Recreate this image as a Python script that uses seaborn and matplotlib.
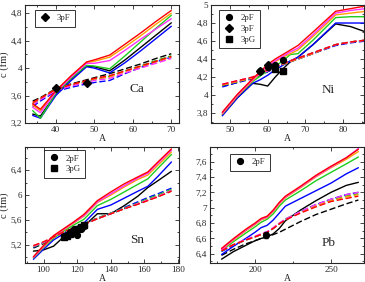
import pandas as pd
import matplotlib
matplotlib.use('Agg')
import matplotlib.pyplot as plt
from matplotlib.ticker import FuncFormatter, MultipleLocator
from matplotlib.lines import Line2D
import seaborn as sns

sns.set_style('ticks')
plt.rcParams['font.family'] = ['Liberation Serif', 'DejaVu Serif']

# ---- data ----
line_names = ['black', 'blue', 'green', 'orange', 'magenta', 'red']

# Ca
ca_A = [34, 36, 40, 44, 48, 50, 54, 58, 62, 66, 70]
ca_solid = {
    'black':   [3.33, 3.30, 3.62, 3.84, 4.03, 4.02, 3.96, 4.12, 4.30, 4.48, 4.66],
    'blue':    [3.31, 3.27, 3.60, 3.82, 4.02, 4.00, 3.93, 4.08, 4.25, 4.43, 4.61],
    'green':   [3.38, 3.27, 3.63, 3.85, 4.04, 4.03, 3.99, 4.18, 4.38, 4.58, 4.77],
    'orange':  [3.46, 3.38, 3.66, 3.88, 4.08, 4.10, 4.16, 4.31, 4.47, 4.64, 4.80],
    'magenta': [3.43, 3.35, 3.65, 3.87, 4.07, 4.07, 4.11, 4.26, 4.42, 4.57, 4.72],
    'red':     [3.48, 3.40, 3.67, 3.89, 4.09, 4.12, 4.19, 4.35, 4.51, 4.68, 4.84],
}
ca_dashed = {
    'black':   [3.52, 3.57, 3.70, 3.77, 3.83, 3.86, 3.92, 3.99, 4.06, 4.14, 4.21],
    'blue':    [3.44, 3.52, 3.66, 3.72, 3.77, 3.79, 3.82, 3.92, 4.01, 4.09, 4.16],
    'green':   [3.47, 3.55, 3.68, 3.75, 3.81, 3.83, 3.88, 3.96, 4.03, 4.11, 4.18],
    'orange':  [3.49, 3.56, 3.69, 3.76, 3.81, 3.84, 3.87, 3.95, 4.02, 4.09, 4.16],
    'magenta': [3.46, 3.54, 3.67, 3.74, 3.79, 3.82, 3.85, 3.93, 4.00, 4.07, 4.14],
    'red':     [3.50, 3.56, 3.69, 3.76, 3.82, 3.85, 3.89, 3.96, 4.03, 4.10, 4.17],
}
ca_3pF_A = [40, 48]
ca_3pF_c = [3.71, 3.78]

# Ni
ni_A = [48, 52, 56, 58, 60, 62, 64, 66, 68, 72, 78, 82, 86]
ni_solid = {
    'black':   [3.78, 3.97, 4.13, 4.12, 4.10, 4.20, 4.29, 4.37, 4.42, 4.56, 4.79, 4.76, 4.70],
    'blue':    [3.77, 3.97, 4.13, 4.17, 4.22, 4.28, 4.33, 4.38, 4.42, 4.56, 4.80, 4.80, 4.80],
    'green':   [3.79, 3.99, 4.15, 4.21, 4.27, 4.32, 4.38, 4.45, 4.46, 4.61, 4.86, 4.87, 4.87],
    'orange':  [3.79, 3.99, 4.16, 4.24, 4.31, 4.37, 4.42, 4.46, 4.50, 4.65, 4.89, 4.91, 4.93],
    'magenta': [3.80, 4.00, 4.17, 4.25, 4.32, 4.38, 4.43, 4.48, 4.52, 4.67, 4.91, 4.94, 4.96],
    'red':     [3.81, 4.01, 4.18, 4.26, 4.34, 4.40, 4.45, 4.50, 4.55, 4.70, 4.93, 4.96, 4.99],
}
ni_dashed = {
    'black':   [4.10, 4.14, 4.19, 4.22, 4.26, 4.30, 4.34, 4.37, 4.40, 4.46, 4.56, 4.59, 4.61],
    'blue':    [4.09, 4.14, 4.18, 4.22, 4.26, 4.30, 4.34, 4.37, 4.40, 4.46, 4.55, 4.58, 4.60],
    'green':   [4.11, 4.15, 4.19, 4.23, 4.27, 4.31, 4.35, 4.38, 4.41, 4.47, 4.56, 4.59, 4.61],
    'orange':  [4.11, 4.15, 4.19, 4.23, 4.27, 4.31, 4.34, 4.37, 4.40, 4.46, 4.56, 4.59, 4.61],
    'magenta': [4.12, 4.16, 4.20, 4.23, 4.27, 4.31, 4.35, 4.38, 4.41, 4.47, 4.56, 4.59, 4.61],
    'red':     [4.12, 4.16, 4.20, 4.24, 4.28, 4.31, 4.35, 4.38, 4.41, 4.47, 4.56, 4.59, 4.61],
}
ni_2pF_A = [58, 60, 62, 64]
ni_2pF_c = [4.27, 4.31, 4.33, 4.39]
ni_3pF_A = [58, 60]
ni_3pF_c = [4.27, 4.33]
ni_3pG_A = [62, 64]
ni_3pG_c = [4.29, 4.27]

# Sn
sn_A = [94, 100, 106, 112, 118, 124, 132, 140, 148, 156, 162, 168, 176]
sn_solid = {
    'black':   [5.10, 5.12, 5.18, 5.33, 5.42, 5.50, 5.70, 5.70, 5.83, 5.98, 6.12, 6.23, 6.38],
    'blue':    [4.97, 5.13, 5.28, 5.38, 5.47, 5.55, 5.77, 5.84, 5.95, 6.06, 6.14, 6.30, 6.53],
    'green':   [4.99, 5.16, 5.31, 5.42, 5.52, 5.61, 5.83, 5.93, 6.05, 6.17, 6.26, 6.43, 6.65],
    'orange':  [5.00, 5.17, 5.33, 5.44, 5.55, 5.66, 5.88, 6.00, 6.13, 6.25, 6.32, 6.48, 6.69],
    'magenta': [5.00, 5.18, 5.34, 5.45, 5.56, 5.67, 5.89, 6.02, 6.15, 6.27, 6.35, 6.51, 6.72],
    'red':     [5.01, 5.19, 5.35, 5.46, 5.57, 5.69, 5.91, 6.05, 6.18, 6.29, 6.37, 6.53, 6.74],
}
sn_dashed = {
    'black':   [5.15, 5.22, 5.32, 5.40, 5.47, 5.53, 5.62, 5.70, 5.78, 5.86, 5.92, 5.98, 6.07],
    'blue':    [5.16, 5.24, 5.32, 5.40, 5.47, 5.54, 5.63, 5.71, 5.80, 5.89, 5.96, 6.02, 6.11],
    'green':   [5.17, 5.23, 5.32, 5.40, 5.47, 5.54, 5.63, 5.71, 5.79, 5.87, 5.94, 6.00, 6.09],
    'orange':  [5.18, 5.24, 5.32, 5.40, 5.47, 5.53, 5.62, 5.70, 5.78, 5.86, 5.92, 5.98, 6.07],
    'magenta': [5.18, 5.24, 5.33, 5.40, 5.47, 5.53, 5.62, 5.70, 5.78, 5.86, 5.92, 5.98, 6.07],
    'red':     [5.19, 5.25, 5.33, 5.41, 5.47, 5.53, 5.62, 5.70, 5.78, 5.85, 5.91, 5.97, 6.06],
}
sn_2pF_A = [112, 114, 116, 118, 120, 122, 124]
sn_2pF_c = [5.34, 5.36, 5.40, 5.45, 5.36, 5.46, 5.51]
sn_3pG_A = [112, 114, 116, 118, 120, 122, 124]
sn_3pG_c = [5.33, 5.35, 5.38, 5.42, 5.45, 5.48, 5.52]

# Pb
pb_A = [178, 186, 194, 200, 204, 208, 212, 216, 220, 230, 240, 250, 260, 268]
pb_solid = {
    'black':   [6.33, 6.43, 6.51, 6.57, 6.60, 6.62, 6.66, 6.73, 6.83, 6.97, 7.09, 7.20, 7.29, 7.33],
    'blue':    [6.39, 6.50, 6.60, 6.68, 6.74, 6.77, 6.84, 6.93, 7.02, 7.12, 7.22, 7.32, 7.44, 7.52],
    'green':   [6.44, 6.56, 6.67, 6.75, 6.81, 6.85, 6.92, 7.02, 7.10, 7.22, 7.35, 7.46, 7.57, 7.66],
    'orange':  [6.45, 6.58, 6.70, 6.78, 6.84, 6.87, 6.95, 7.05, 7.13, 7.26, 7.40, 7.52, 7.63, 7.73],
    'magenta': [6.46, 6.59, 6.71, 6.79, 6.85, 6.88, 6.96, 7.06, 7.14, 7.27, 7.41, 7.53, 7.65, 7.77],
    'red':     [6.47, 6.60, 6.72, 6.80, 6.86, 6.89, 6.97, 7.07, 7.15, 7.28, 7.42, 7.54, 7.65, 7.76],
}
pb_dashed = {
    'black':   [6.38, 6.46, 6.53, 6.57, 6.60, 6.62, 6.65, 6.68, 6.72, 6.82, 6.91, 6.98, 7.05, 7.10],
    'blue':    [6.43, 6.51, 6.58, 6.62, 6.65, 6.68, 6.73, 6.79, 6.85, 6.95, 7.04, 7.11, 7.17, 7.20],
    'green':   [6.44, 6.52, 6.58, 6.62, 6.65, 6.68, 6.73, 6.79, 6.85, 6.95, 7.03, 7.10, 7.15, 7.18],
    'orange':  [6.44, 6.52, 6.58, 6.62, 6.65, 6.68, 6.73, 6.79, 6.85, 6.94, 7.03, 7.09, 7.14, 7.17],
    'magenta': [6.45, 6.52, 6.59, 6.63, 6.66, 6.69, 6.74, 6.80, 6.85, 6.95, 7.04, 7.11, 7.17, 7.20],
    'red':     [6.44, 6.52, 6.58, 6.62, 6.65, 6.68, 6.73, 6.79, 6.84, 6.93, 7.01, 7.08, 7.12, 7.15],
}
pb_2pF_A = [207]
pb_2pF_c = [6.64]
pb_2pF_err = [0.04]

palette = {'black': '#000000', 'blue': '#0000ff', 'green': '#1fcc1f',
           'orange': '#ffa000', 'magenta': '#ff30ff', 'red': '#ff0000'}


def long_df(A, solid, dashed):
    rows = []
    for kind, block in [('solid', solid), ('dashed', dashed)]:
        for name in line_names:
            for a, v in zip(A, block[name]):
                rows.append({'A': a, 'c': v, 'line': name, 'kind': kind})
    return pd.DataFrame(rows)


def fmt(v, pos):
    return f'{round(v, 3):g}'.replace('.', ',')


fig = plt.figure(figsize=(3.65, 2.82), dpi=100)
W, H = 365, 282


def make_ax(x0, x1, y0, y1):
    return fig.add_axes([x0 / W, 1 - y1 / H, (x1 - x0) / W, (y1 - y0) / H])


ax_ca = make_ax(25, 179, 5, 123)
ax_ni = make_ax(211, 364, 5, 123)
ax_sn = make_ax(25, 179, 147, 263)
ax_pb = make_ax(210, 364, 147, 263)

panels = [
    (ax_ca, ca_A, ca_solid, ca_dashed, (32, 72), (3.2, 4.92), 10, 5, 0.4, 0.2, 'Ca', (0.73, 0.29)),
    (ax_ni, ni_A, ni_solid, ni_dashed, (45, 85.5), (3.69, 5.0), 10, 5, 0.2, 0.1, 'Ni', (0.765, 0.28)),
    (ax_sn, sn_A, sn_solid, sn_dashed, (89, 180.5), (4.91, 6.77), 20, 10, 0.4, 0.2, 'Sn', (0.73, 0.2)),
    (ax_pb, pb_A, pb_solid, pb_dashed, (170.4, 271.7), (6.28, 7.79), 50, 25, 0.2, 0.1, 'Pb', (0.77, 0.17)),
]

for ax, A, solid, dashed, xl, yl, xmaj, xmin, ymaj, ymin, name, pos in panels:
    df = long_df(A, solid, dashed)
    sns.lineplot(data=df, x='A', y='c', hue='line', style='kind',
                 hue_order=line_names, style_order=['solid', 'dashed'],
                 palette=palette, dashes={'solid': '', 'dashed': (4.5, 2)},
                 estimator=None, sort=False, legend=False, lw=1.0, ax=ax)
    ax.set_xlim(*xl)
    ax.set_ylim(*yl)
    ax.xaxis.set_major_locator(MultipleLocator(xmaj))
    ax.xaxis.set_minor_locator(MultipleLocator(xmin))
    ax.yaxis.set_major_locator(MultipleLocator(ymaj))
    ax.yaxis.set_minor_locator(MultipleLocator(ymin))
    ax.yaxis.set_major_formatter(FuncFormatter(fmt))
    ax.tick_params(which='both', direction='in', top=True, right=True,
                   labelsize=6.6, width=0.6, pad=2)
    ax.tick_params(which='major', length=3)
    ax.tick_params(which='minor', length=1.6)
    for s in ax.spines.values():
        s.set_linewidth(0.8)
    ax.set_xlabel('A', fontsize=7, labelpad=0)
    ax.set_ylabel('')
    ax.text(pos[0], pos[1], name, transform=ax.transAxes, fontsize=9.5,
            ha='center', va='center')

ax_ca.set_ylabel('c (fm)', fontsize=7.5, labelpad=1)
ax_sn.set_ylabel('c (fm)', fontsize=7.5, labelpad=1)

mk = dict(color='black', ls='none', zorder=5)
ax_ca.plot(ca_3pF_A, ca_3pF_c, marker='D', ms=3.8, **mk)
ax_ni.plot(ni_2pF_A, ni_2pF_c, marker='o', ms=4.2, **mk)
ax_ni.plot(ni_3pF_A, ni_3pF_c, marker='D', ms=3.8, **mk)
ax_ni.plot(ni_3pG_A, ni_3pG_c, marker='s', ms=4.2, **mk)
ax_sn.plot(sn_2pF_A, sn_2pF_c, marker='o', ms=4.2, **mk)
ax_sn.plot(sn_3pG_A, sn_3pG_c, marker='s', ms=4.0, **mk)
ax_pb.errorbar(pb_2pF_A, pb_2pF_c, yerr=pb_2pF_err, fmt='o', ms=4.2,
               color='black', elinewidth=1.0, capsize=1.5, zorder=5)


def add_legend(ax, items, anchor):
    handles = [Line2D([], [], color='black', ls='none', marker=m, ms=s, label=l)
               for m, s, l in items]
    leg = ax.legend(handles=handles, loc='upper left', bbox_to_anchor=anchor,
                    borderaxespad=0, fontsize=6.3, frameon=True, fancybox=False,
                    handlelength=1.2, handletextpad=0.8, borderpad=0.5,
                    labelspacing=0.3)
    leg.get_frame().set_edgecolor('black')
    leg.get_frame().set_linewidth(0.7)


add_legend(ax_ca, [('D', 3.8, '3pF')], (0.065, 0.958))
add_legend(ax_ni, [('o', 4.2, '2pF'), ('D', 3.8, '3pF'), ('s', 4.2, '3pG')], (0.052, 0.958))
add_legend(ax_sn, [('o', 4.2, '2pF'), ('s', 4.0, '3pG')], (0.123, 0.974))
add_legend(ax_pb, [('o', 4.2, '2pF')], (0.13, 0.94))

fig.savefig('out.png', dpi=100)
